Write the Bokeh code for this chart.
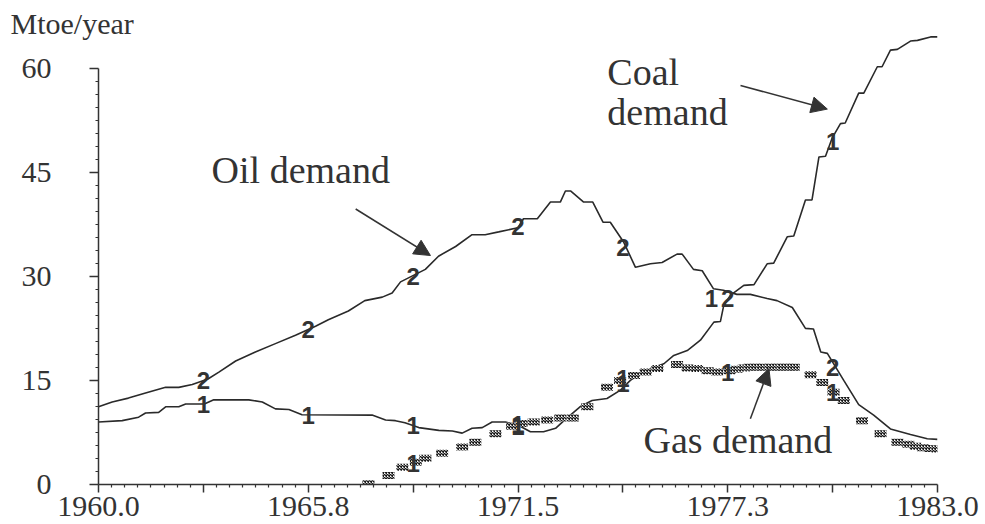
from bokeh.plotting import figure
from bokeh.models import Range1d, FixedTicker, Label, Arrow, NormalHead, ColumnDataSource, Title
from bokeh.embed import file_html
from bokeh.resources import INLINE
from bokeh.core.properties import value

# ---------------- data ----------------
oil_years = [1960.0, 1960.375, 1960.82, 1961.29, 1961.84, 1962.2, 1962.57, 1963.0, 1963.3, 1963.76,
             1964.3, 1964.85, 1965.4, 1965.95, 1966.3, 1966.85, 1967.3, 1967.78, 1968.05, 1968.28,
             1968.96, 1969.32, 1969.79, 1970.24, 1970.6, 1970.97, 1971.5, 1971.65, 1972.03, 1972.39,
             1972.66, 1972.8, 1972.94, 1973.3, 1973.55, 1973.83, 1974.03, 1974.4, 1974.72, 1975.13,
             1975.45, 1975.86, 1976.0, 1976.31, 1976.55, 1976.86, 1977.13, 1977.5, 1977.87, 1978.33,
             1978.6, 1979.02, 1979.38, 1979.6, 1979.8, 1979.98, 1980.43, 1980.84, 1981.25, 1981.71,
             1982.26, 1982.72, 1983.0]
oil_vals = [11.2, 11.9, 12.45, 13.2, 14.0, 14.0, 14.4, 15.2, 16.2, 17.8,
            19.1, 20.3, 21.5, 22.8, 23.75, 25.0, 26.5, 27.0, 27.6, 29.2,
            31.0, 32.9, 34.3, 36.0, 36.0, 36.4, 37.0, 38.3, 38.3, 40.7,
            40.7, 42.3, 42.3, 40.7, 40.7, 37.8, 37.8, 34.9, 31.3, 31.8,
            32.0, 33.2, 33.2, 31.0, 30.8, 28.2, 28.0, 27.4, 27.4, 26.8,
            26.5, 25.5, 22.5, 22.4, 19.1, 18.9, 15.0, 11.5, 10.0, 8.0,
            7.2, 6.6, 6.5]

coal_years = [1960.0, 1960.65, 1961.1, 1961.29, 1961.65, 1961.84, 1962.2, 1962.39, 1962.9, 1963.16,
              1964.12, 1964.49, 1964.85, 1965.22, 1965.58, 1967.5, 1967.87, 1968.14, 1968.4, 1968.78,
              1969.33, 1969.7, 1969.97, 1970.24, 1970.52, 1970.79, 1971.16, 1971.52, 1971.84, 1972.2,
              1972.53, 1972.76, 1973.2, 1973.53, 1973.94, 1974.31, 1974.58, 1974.77, 1975.13, 1975.5,
              1975.77, 1976.14, 1976.5, 1976.87, 1977.05, 1977.14, 1977.33, 1977.69, 1977.97, 1978.33,
              1978.51, 1978.88, 1979.06, 1979.38, 1979.56, 1979.75, 1979.93, 1980.11, 1980.34, 1980.47,
              1980.84, 1980.98, 1981.35, 1981.48, 1981.71, 1981.9, 1982.26, 1982.45, 1982.81, 1983.0]
coal_vals = [9.0, 9.2, 9.7, 10.3, 10.4, 11.2, 11.2, 11.6, 11.6, 12.2,
             12.2, 11.9, 10.9, 10.8, 10.05, 10.0, 9.3, 9.2, 8.9, 8.2,
             7.8, 7.7, 7.4, 8.1, 8.2, 9.0, 9.0, 8.5, 7.6, 7.6,
             8.1, 9.2, 11.2, 12.1, 12.4, 13.6, 15.0, 15.7, 16.7, 17.4,
             18.6, 19.3, 20.8, 23.4, 23.5, 25.8, 27.3, 28.7, 28.8, 31.8,
             31.9, 35.7, 35.8, 41.0, 41.0, 47.2, 47.3, 49.9, 52.0, 52.1,
             56.4, 56.4, 60.2, 60.2, 62.6, 62.7, 63.9, 64.0, 64.5, 64.5]

gas_years = [1967.4, 1967.95, 1968.33, 1968.7, 1968.96, 1969.42, 1969.97, 1970.33, 1970.88, 1971.34,
             1971.6, 1971.93, 1972.3, 1972.66, 1973.0, 1973.4, 1973.94, 1974.3, 1974.68, 1975.0,
             1975.32, 1975.86, 1976.15, 1976.41, 1976.7, 1976.96, 1977.3, 1977.5, 1977.69, 1977.85,
             1978.0, 1978.2, 1978.42, 1978.6, 1978.75, 1978.9, 1979.06, 1979.52, 1979.84, 1980.15,
             1980.43, 1980.93, 1981.44, 1981.9, 1982.2, 1982.4, 1982.6, 1982.8, 1983.0]
gas_vals = [0.1, 1.3, 2.5, 3.2, 3.8, 4.5, 5.4, 6.1, 7.3, 8.4,
            8.8, 9.0, 9.3, 9.6, 9.6, 11.2, 14.0, 15.0, 15.7, 16.2,
            16.7, 17.3, 16.8, 16.7, 16.4, 16.2, 16.4, 16.6, 16.8, 16.9,
            16.9, 16.9, 16.9, 16.9, 16.9, 16.9, 16.9, 15.8, 14.7, 13.3,
            12.1, 9.2, 7.3, 6.1, 5.8, 5.5, 5.3, 5.2, 5.1]

# series-number labels drawn on the curves
m2_years = [1962.875, 1965.75, 1968.625, 1971.5, 1974.375, 1977.25, 1980.125]
m2_vals = [15.0, 22.3, 30.0, 37.2, 34.2, 26.8, 16.9]
m1_years = [1962.875, 1965.75, 1968.625, 1971.5, 1974.375, 1976.8, 1980.125,
            1968.625, 1971.5, 1974.375, 1977.25, 1980.125]
m1_vals = [11.6, 10.0, 8.5, 8.4, 14.5, 26.8, 49.4,
           3.0, 8.6, 15.3, 16.2, 13.3]

x_ticks = [1960.0, 1962.875, 1965.75, 1968.625, 1971.5, 1974.375, 1977.25, 1980.125, 1983.0]
x_tick_labels = ["1960.0", "", "1965.8", "", "1971.5", "", "1977.3", "", "1983.0"]
y_ticks = [0, 15, 30, 45, 60]

INK = "#333333"
SERIF = "Liberation Serif"

# ---------------- figure ----------------
p = figure(width=985, height=524, x_range=Range1d(1960, 1983), y_range=Range1d(0, 66),
           output_backend="svg", toolbar_location=None,
           min_border_left=98, min_border_right=48, min_border_top=26, min_border_bottom=40)
p.outline_line_color = None
p.grid.visible = False
p.background_fill_color = "white"
p.border_fill_color = "white"

p.add_layout(Title(text="Mtoe/year", align="left", offset=-88, standoff=-27,
                   text_font=SERIF, text_font_size="30px", text_font_style="normal",
                   text_color=INK), "above")

x_minor = [x_ticks[i] + (x_ticks[i + 1] - x_ticks[i]) * k / 8
           for i in range(len(x_ticks) - 1) for k in range(1, 8)]
y_minor = [y_ticks[i] + (y_ticks[i + 1] - y_ticks[i]) * k / 8
           for i in range(len(y_ticks) - 1) for k in range(1, 8)]

xax = p.xaxis[0]
xax.ticker = FixedTicker(ticks=x_ticks, minor_ticks=x_minor)
xax.major_label_overrides = {t: lab for t, lab in zip(x_ticks, x_tick_labels)}
xax.bounds = (1960, 1983)
yax = p.yaxis[0]
yax.ticker = FixedTicker(ticks=y_ticks, minor_ticks=y_minor)
yax.bounds = (0, 60)

for ax in (xax, yax):
    ax.axis_line_color = INK
    ax.axis_line_width = 1.5
    ax.major_tick_line_color = INK
    ax.minor_tick_line_color = INK
    ax.major_tick_line_width = 1.5
    ax.minor_tick_line_width = 1.2
    ax.major_tick_in = 0
    ax.minor_tick_in = 0
    ax.minor_tick_out = 3
    ax.major_label_text_font = SERIF
    ax.major_label_text_font_size = "30px"
    ax.major_label_text_color = INK
xax.major_tick_out = 8
xax.major_label_standoff = 4
yax.major_tick_out = 9
yax.major_label_standoff = 38

# ---------------- series ----------------
p.line(oil_years, oil_vals, line_color="#2a2a2a", line_width=1.6)
p.line(coal_years, coal_vals, line_color="#2a2a2a", line_width=1.6)
p.rect(x=gas_years, y=gas_vals, width=12, height=7, width_units="screen", height_units="screen",
       fill_color="white", line_color=None, hatch_pattern="x", hatch_scale=3,
       hatch_color="#1a1a1a", hatch_weight=1.4)

src2 = ColumnDataSource(dict(x=m2_years, y=m2_vals, t=["2"] * len(m2_years)))
src1 = ColumnDataSource(dict(x=m1_years, y=m1_vals, t=["1"] * len(m1_years)))
for src in (src2, src1):
    p.text(x="x", y="y", text="t", source=src, text_font=value("Liberation Sans"),
           text_font_style="bold", text_font_size="24px", text_align="center",
           text_baseline="middle", text_color="#333333")

# ---------------- annotations ----------------
def lab(x, y, txt, size="38px"):
    p.add_layout(Label(x=x, y=y, text=txt, text_font=SERIF, text_font_size=size,
                       text_color=INK, text_align="left", text_baseline="alphabetic"))

lab(1963.1, 45.3, "Oil demand")
lab(1973.95, 59.4, "Coal")
lab(1973.95, 53.7, "demand")
lab(1974.94, 6.4, "Gas demand")

for xs, ys, xe, ye in [(1967.05, 39.7, 1969.1, 33.0),
                       (1977.6, 57.5, 1979.98, 54.1),
                       (1977.87, 9.47, 1978.38, 16.7)]:
    p.add_layout(Arrow(end=NormalHead(size=16, fill_color=INK, line_color=INK),
                       x_start=xs, y_start=ys, x_end=xe, y_end=ye,
                       line_color=INK, line_width=1.5))

open("out.html", "w").write(file_html(p, INLINE))
